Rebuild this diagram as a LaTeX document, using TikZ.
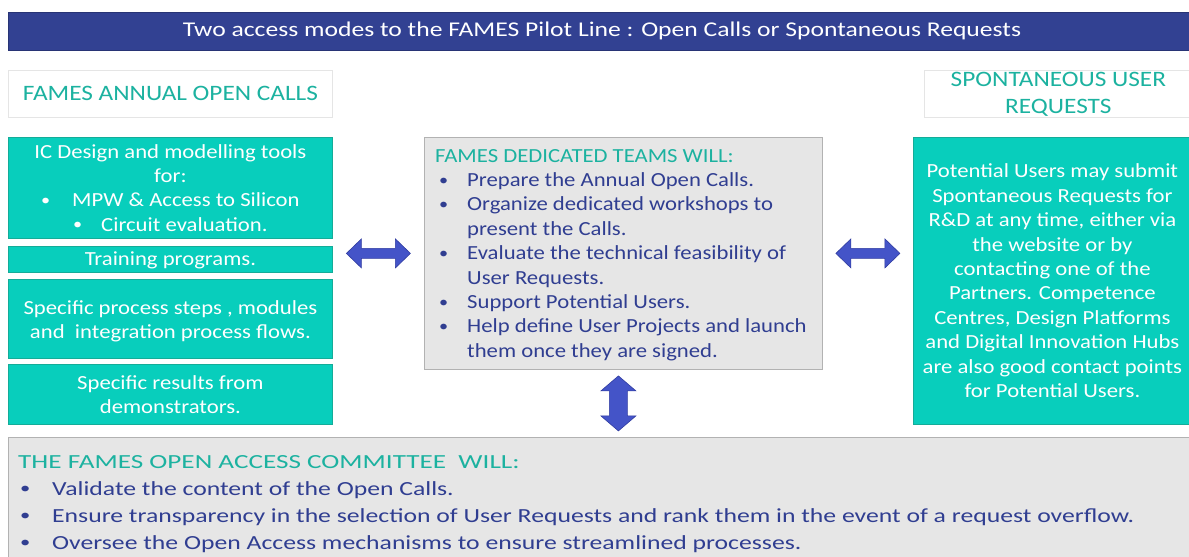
\documentclass[tikz,border=0pt]{standalone}
\usepackage{fontspec}
\usepackage{graphicx}
\setmainfont{Carlito}
\newfontfamily\wfont[FakeStretch=1.135]{Carlito}
\newfontfamily\hfont[FakeStretch=1.15]{Carlito}
\newfontfamily\tfont[FakeStretch=1.22]{Carlito}
\newfontfamily\bfont[FakeStretch=1.285]{Carlito}
\newfontfamily\bhfont[FakeStretch=1.36]{Carlito}
\usetikzlibrary{calc}
\definecolor{titleblue}{RGB}{50,65,146}
\definecolor{tealfill}{RGB}{8,206,188}
\definecolor{tealedge}{RGB}{20,172,152}
\definecolor{tealtxt}{RGB}{28,178,160}
\definecolor{graybg}{RGB}{230,230,230}
\definecolor{grayedge}{RGB}{178,178,178}
\definecolor{navytxt}{RGB}{48,62,145}
\definecolor{arrowblue}{RGB}{68,84,200}
\definecolor{arrowedge}{RGB}{48,60,160}
\newcommand{\smbul}{\raisebox{0.15ex}{\scalebox{0.8}{\textbullet}}}
\newcommand{\bul}{\hspace{4pt}\makebox[28pt][l]{\smbul}}
\newcommand{\bulind}{\hspace{32pt}}
\newcommand{\bbul}{\hspace{2pt}\makebox[32pt][l]{\smbul}}
\begin{document}
\begin{tikzpicture}[x=1pt,y=-1pt,
  maintxt/.style={font=\wfont\fontsize{20}{24.4}\selectfont},
  tealbox/.style={draw=tealedge, line width=0.8pt, fill=tealfill, text=white, inner sep=0pt, align=center, maintxt},
  headbox/.style={draw=black!10, line width=0.8pt, fill=white, text=tealtxt, inner sep=0pt, align=center, font=\hfont\fontsize{22}{27}\selectfont},
  graybox/.style={draw=grayedge, line width=0.8pt, fill=graybg, inner sep=0pt},
  harrow/.pic={\filldraw[fill=arrowblue, draw=arrowedge, line width=0.6pt]
     (-32,0) -- (-17,-14.5) -- (-17,-5) -- (17,-5) -- (17,-14.5) -- (32,0)
     -- (17,14.5) -- (17,5) -- (-17,5) -- (-17,14.5) -- cycle;},
  varrow/.pic={\filldraw[fill=arrowblue, draw=arrowedge, line width=0.6pt]
     (0,-27.5) -- (17.5,-12.5) -- (9,-12.5) -- (9,12.5) -- (17.5,12.5) -- (0,27.5)
     -- (-17.5,12.5) -- (-9,12.5) -- (-9,-12.5) -- (-17.5,-12.5) -- cycle;}
]
\useasboundingbox (0,0) rectangle (1189,557);
\fill[white] (0,0) rectangle (1189,557);

% title bar
\node[draw=titleblue!80!black, line width=0.6pt, fill=titleblue, minimum width=1185pt, minimum height=38pt, inner sep=0pt, anchor=north west] (title) at (8,12) {};
\node[text=white, font=\tfont\fontsize{21}{24}\selectfont] (titletxt) at (602,31) {Two access modes to the FAMES Pilot Line : Open Calls or Spontaneous Requests};

% headers
\node[headbox, minimum width=324pt, minimum height=47pt, anchor=north west] (hleft) at (8,70) {FAMES ANNUAL OPEN CALLS};
\node[headbox, minimum width=268pt, minimum height=47pt, anchor=north west] (hright) at (924,70) {SPONTANEOUS USER\\REQUESTS};

% left teal column
\node[tealbox, minimum width=324pt, minimum height=101pt, anchor=north west] (c1) at (8,137)
  {IC Design and modelling tools\\for:\\\smbul\hspace{22pt}MPW \& Access to Silicon\\\smbul\hspace{19pt}Circuit evaluation.};
\node[tealbox, minimum width=324pt, minimum height=26pt, anchor=north west] (c2) at (8,246) {\rule{0pt}{15pt}Training programs.};
\node[tealbox, minimum width=324pt, minimum height=79pt, anchor=north west] (c3) at (8,279)
  {\rule{0pt}{19pt}Specific process steps , modules\\and\ \ integration process flows.};
\node[tealbox, minimum width=324pt, minimum height=60pt, anchor=north west] (c4) at (8,364)
  {Specific results from\\demonstrators.};

% centre box
\node[graybox, minimum width=398pt, minimum height=232pt, anchor=north west] (ctr) at (424,137) {};
\node[maintxt, align=left, anchor=north west, inner sep=0pt, text=navytxt] (ctrtxt) at (435,149)
  {\textcolor{tealtxt}{FAMES DEDICATED TEAMS WILL:}\\
   \bul Prepare the Annual Open Calls.\\
   \bul Organize dedicated workshops to\\
   \bulind present the Calls.\\
   \bul Evaluate the technical feasibility of\\
   \bulind User Requests.\\
   \bul Support Potential Users.\\
   \bul Help define User Projects and launch\\
   \bulind them once they are signed.};

% right teal box
\node[tealbox, minimum width=278pt, minimum height=287pt, anchor=north west] (rbox) at (913,137)
  {Potential Users may submit\\Spontaneous Requests for\\R\&D at any time, either via\\the website or by\\contacting one of the\\Partners. Competence\\Centres, Design Platforms\\and Digital Innovation Hubs\\are also good contact points\\for Potential Users.};

% bottom box
\node[graybox, minimum width=1185pt, minimum height=125pt, anchor=north west] (bot) at (8,437) {};
\node[align=left, anchor=north west, inner sep=0pt, text=navytxt, font=\bfont\fontsize{20}{27}\selectfont] (bottxt) at (18,455)
  {\textcolor{tealtxt}{\bhfont THE FAMES OPEN ACCESS COMMITTEE\ \ WILL:}\\
   \bbul Validate the content of the Open Calls.\\
   \bbul Ensure transparency in the selection of User Requests and rank them in the event of a request overflow.\\
   \bbul Oversee the Open Access mechanisms to ensure streamlined processes.};

% block arrows between boxes
\pic at ($(c1.east |- ctr.center)!0.5!(ctr.west)$) {harrow};
\pic at ($(ctr.east)!0.5!(rbox.west |- ctr.east)$) {harrow};
\pic at ($(ctr.south)!0.5!(ctr.south |- bot.north) + (-5,0)$) {varrow};
\end{tikzpicture}
\end{document}
